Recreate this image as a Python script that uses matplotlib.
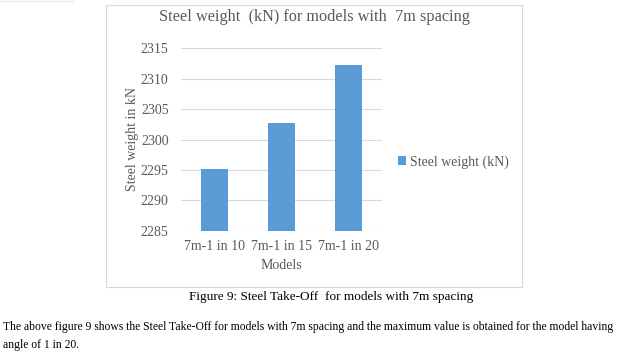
import matplotlib
matplotlib.use("Agg")
import matplotlib.pyplot as plt
from matplotlib.patches import Rectangle

models = ["7m-1 in 10", "7m-1 in 15", "7m-1 in 20"]
steel_weight = [2295.2, 2302.7, 2312.3]
y_ticks = [2285, 2290, 2295, 2300, 2305, 2310, 2315]

plt.rcParams["font.family"] = ["Liberation Serif", "DejaVu Serif"]
txt = "#595959"
W, H = 631, 359

fig = plt.figure(figsize=(W / 100, H / 100), dpi=100)
ax = fig.add_axes([181 / W, 1 - 230.7 / H, 201 / W, 182.4 / H])

# barras
x = list(range(len(models)))
bars = ax.bar(x, steel_weight, width=0.4, color="#5B9BD5", label="Steel weight (kN)", zorder=3)

ax.set_ylim(2285, 2315)
ax.set_xlim(-0.5, 2.5)
ax.set_yticks(y_ticks)
ax.set_xticks(x)
ax.set_xticklabels(models)
ax.grid(axis="y", color="#D9D9D9", linewidth=0.8, zorder=0)
for s in ax.spines.values():
    s.set_visible(False)
ax.tick_params(axis="y", length=0, labelsize=10, colors=txt, pad=9)
ax.tick_params(axis="x", length=0, labelsize=10, colors=txt, pad=7)

ax.set_xlabel("Models", fontsize=10, color=txt, labelpad=4)
ax.set_ylabel("Steel weight in kN", fontsize=10, color=txt, labelpad=1.5)
fig.text(314 / W, 1 - 17 / H, "Steel weight  (kN) for models with  7m spacing",
         ha="center", va="center", fontsize=11.7, color=txt)

ax.legend(loc="center left", bbox_to_anchor=(398 / W, 1 - 162 / H),
          bbox_transform=fig.transFigure, frameon=False, fontsize=10,
          handlelength=0.6, handleheight=0.6, handletextpad=0.3,
          borderpad=0, borderaxespad=0, labelcolor=txt)

# marco del grafico
fig.patches.append(Rectangle((106 / W, 1 - 287 / H), 416 / W, 282 / H,
                             transform=fig.transFigure, fill=False,
                             edgecolor="#D9D9D9", linewidth=0.8))
fig.add_artist(plt.Line2D([0, 73 / W], [1 - 1 / H, 1 - 1 / H],
                          transform=fig.transFigure, color="#E6E6E6", linewidth=0.8))

# textos del documento
fig.text(331 / W, 1 - 297 / H, "Figure 9: Steel Take-Off  for models with 7m spacing",
         ha="center", va="center", fontsize=9.5, color="black")
fig.text(3 / W, 1 - 327 / H,
         "The above figure 9 shows the Steel Take-Off for models with 7m spacing and the maximum value is obtained for the model having",
         ha="left", va="center", fontsize=8.4, color="black")
fig.text(3 / W, 1 - 345 / H, "angle of 1 in 20.", ha="left", va="center",
         fontsize=8.4, color="black")

fig.savefig("out.png", dpi=100)
